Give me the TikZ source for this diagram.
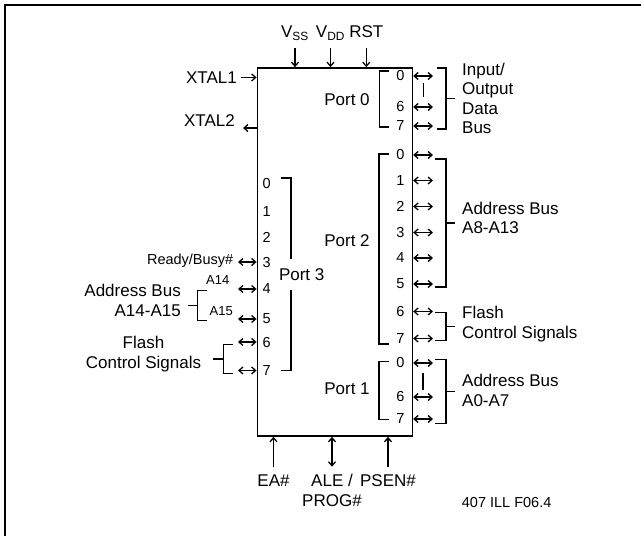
\documentclass[tikz,border=0pt]{standalone}
\usepackage{fontspec}
\setmainfont{Liberation Sans}
\usetikzlibrary{arrows.meta,positioning}

\begin{document}
\begin{tikzpicture}[x=1pt,y=-1pt,
    >={Straight Barb[length=4pt,width=7pt]},
    txt/.style={font=\fontsize{17}{19.5}\selectfont,inner sep=0pt},
    pinno/.style={font=\fontsize{14.5}{16}\selectfont,inner sep=0pt},
    sig/.style={font=\fontsize{14.5}{16}\selectfont,inner sep=0pt},
    addr/.style={font=\fontsize{13}{14}\selectfont,inner sep=0pt},
    chip/.style={draw,line width=1.4pt,minimum width=155.2pt,
                 minimum height=368.3pt,inner sep=0pt},
    arr/.style={->,line width=1.3pt},
    dbl/.style={<->,line width=1.3pt},
    brk/.style={line width=1.4pt},
    frame/.style={line width=1.8pt}]
  \useasboundingbox (0,0) rectangle (641,536);
  \draw[frame] (641,5) -- (5,5) -- (5,536);
  % --- chip body
  \node[chip] (mcu) at (334.9,252) {};
  % --- supply and reset on top
  \coordinate (toprow) at (0,48);
  \node[txt,anchor=base] (vss) at (295,37.5) {V\textsubscript{SS}};
  \node[txt,anchor=base] (vdd) at (330.5,37.5) {V\textsubscript{DD}};
  \node[txt,anchor=base] (rst) at (366.3,37.5) {RST};
  \foreach \s in {vss,vdd,rst}
    \draw[arr] (\s |- toprow) -- (\s |- mcu.north);
  % --- oscillator
  \node[txt,anchor=base east] (xtal1) at (237,83.3) {XTAL1};
  \draw[arr] ([xshift=3.5pt]xtal1.east) -- (xtal1.east -| mcu.west);
  \node[txt,anchor=base east] (xtal2) at (235,126) {XTAL2};
  \path (xtal2.base east) ++(8,2) coordinate (x2tip);
  \draw[arr] (x2tip -| mcu.west) -- (x2tip);
  % --- port 0
  \node[txt] (port0) at (347,100) {Port 0};
  \foreach \i/\y in {0/76,6/107,7/126}{
    \node[pinno] (p0n\i) at (400.5,\y) {\i};
    \coordinate (p0e\i) at (433,\y);
    \draw[dbl] (p0n\i -| mcu.east) -- (p0e\i);
  }
  \draw[brk] (389,71) -- (379.5,71) -- (379.5,127) -- (389,127);
  \draw[brk] (p0e0) ++(-9.7,7) -- ++(0,14);
  \draw[brk] (437,68) -- (446,68) -- (446,129) -- (437,129);
  \draw[brk] (446,98.5) -- (455,98.5);
  \node[txt,anchor=west,align=left] (iobus) at (462,98.5) {Input/\\Output\\Data\\Bus};
  % --- port 2
  \node[txt] (port2) at (347,241) {Port 2};
  \foreach \i/\y in {0/155,1/180.5,2/206.5,3/232.5,4/258,5/284,6/311.5,7/338.5}{
    \node[pinno] (p2n\i) at (400.5,\y) {\i};
    \coordinate (p2e\i) at (433,\y);
    \draw[dbl] (p2n\i -| mcu.east) -- (p2e\i);
  }
  \draw[brk] (388.5,154) -- (379,154) -- (379,344) -- (388.5,344);
  \draw[brk] (435,159) -- (446,159) -- (446,287) -- (435,287);
  \draw[brk] (446,223) -- (455,223);
  \node[txt,anchor=west,align=left] (a8bus) at (462,218) {Address Bus\\A8-A13};
  \draw[brk] (435,312.5) -- (446,312.5) -- (446,340.5) -- (435,340.5);
  \draw[brk] (446,326.5) -- (455,326.5);
  \node[txt,anchor=west,align=left] (fcs2) at (462,324) {Flash\\Control Signals};
  % --- port 1
  \node[txt] (port1) at (347,389) {Port 1};
  \foreach \i/\y in {0/363,6/397,7/419}{
    \node[pinno] (p1n\i) at (400.5,\y) {\i};
    \coordinate (p1e\i) at (433,\y);
    \draw[dbl] (p1n\i -| mcu.east) -- (p1e\i);
  }
  \draw[brk] (389,361.5) -- (379,361.5) -- (379,419.5) -- (389,419.5);
  \draw[brk] (p1e0) ++(-10,10) -- ++(0,17);
  \draw[brk] (435,359.5) -- (446,359.5) -- (446,423.5) -- (435,423.5);
  \draw[brk] (446,391.5) -- (455,391.5);
  \node[txt,anchor=west,align=left] (a0bus) at (462,390.5) {Address Bus\\A0-A7};
  % --- port 3
  \node[txt] (port3) at (301.7,275) {Port 3};
  \foreach \i/\y in {0/184,1/211.5,2/237.5,3/262.5,4/289,5/319,6/343,7/370.5}
    \node[pinno] (p3n\i) at (266.7,\y) {\i};
  \foreach \i/\y in {3/262,4/289,5/319,6/342,7/370.5}{
    \coordinate (p3w\i) at (238,\y);
    \draw[dbl] (p3w\i) -- (p3w\i -| mcu.west);
  }
  \draw[brk] (281,178) -- (291,178) -- (291,259);
  \draw[brk] (291,289.5) -- (291,370.7) -- (281,370.7);
  \node[sig,anchor=east] (rdy) at (233.5,261) {Ready/Busy\#};
  \node[addr,anchor=east] (a14) at (229.5,280.5) {A14};
  \node[addr,anchor=east] (a15) at (233,310.7) {A15};
  \draw[brk] (206.7,290.7) -- (197.3,290.7) -- (197.3,320.7) -- (206.7,320.7);
  \draw[brk] (197.3,305.7) -- (188.3,305.7);
  \node[txt,anchor=east,align=right] (a14bus) at (181,300.5) {Address Bus\\A14-A15};
  \draw[brk] (233.3,344.3) -- (223.3,344.3) -- (223.3,373.3) -- (233.3,373.3);
  \draw[brk] (223.3,359) -- (213.3,359);
  \node[txt,align=center] (fcs3) at (143.5,354) {Flash\\Control Signals};
  % --- control pins below
  \coordinate (botrow) at (0,466.7);
  \node[txt,anchor=base] (ea) at (273.5,486.5) {EA\#};
  \node[txt,anchor=base] (ale) at (332,486.5) {ALE /};
  \node[txt,anchor=base] (psen) at (388,486.5) {PSEN\#};
  \node[txt,anchor=base] (prog) at (332,506.5) {PROG\#};
  \draw[arr] (ea |- botrow) -- (ea |- mcu.south);
  \draw[dbl] (ale |- botrow) -- (ale |- mcu.south);
  \draw[arr] (psen |- botrow) -- (psen |- mcu.south);
  \node[sig,anchor=west] (figno) at (461.7,503) {407 ILL F06.4};
\end{tikzpicture}
\end{document}
